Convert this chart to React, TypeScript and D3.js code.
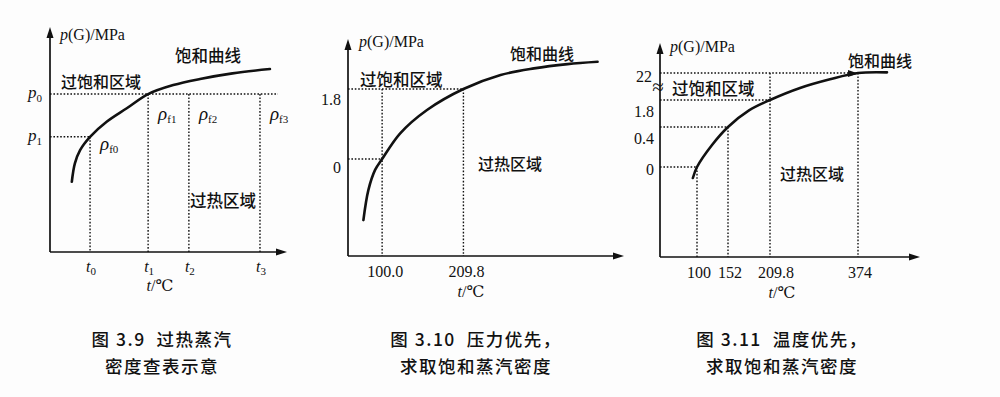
import React from 'react';
import * as d3 from 'd3';

const SERIF = "'Liberation Serif', 'DejaVu Serif', serif";
const CJK = "'Noto Sans CJK SC', 'Noto Sans', sans-serif";
const INK = '#111';

// 图3.9: schematic, relative units (0-100 on both axes)
const fig9CurveT = [9.2, 10.5, 12.7, 16.9, 23.9, 32.4, 41.4, 52, 63.3, 77, 92.8];
const fig9CurveP = [31.2, 39.4, 45.3, 51.2, 57.9, 63.9, 70.2, 74.2, 76.9, 79.4, 81.3];
const fig9Temps = [16.9, 41.4, 58.6, 88.6];
const fig9TempSubs = ['0', '1', '2', '3'];
const fig9VLineTops = [51.2, 70.2, 70.2, 70.2];
const fig9Pressures = [70.2, 51.2];
const fig9PressureSubs = ['0', '1'];
const fig9HLineEnds = [96.2, 16.9];
const fig9DensitySubs = ['f0', 'f1', 'f2', 'f3'];

// 图3.10: pressure first
const fig10CurveT = [74.7, 81.4, 90.5, 100, 124.4, 160.6, 209.8, 260, 305.1, 350.4, 391];
const fig10CurveP = [-1.57, -0.8, -0.28, 0, 0.66, 1.26, 1.8, 2.16, 2.33, 2.44, 2.5];
const fig10Temps = [100, 209.8];
const fig10TempLabels = ['100.0', '209.8'];
const fig10VLineTops = [1.8, 1.8];
const fig10Pressures = [0, 1.8];
const fig10PressureLabels = ['0', '1.8'];
const fig10HLineEnds = [100, 209.8];

// 图3.11: temperature first
const fig11CurveT = [93.3, 100, 125.2, 152, 180.9, 209.8, 265.8, 321.7, 374, 427.8];
const fig11CurveP = [-0.11, 0, 0.22, 0.4, 1.26, 1.8, 10.8, 17.3, 22, 22.5];
const fig11Temps = [100, 152, 209.8, 374];
const fig11TempLabels = ['100', '152', '209.8', '374'];
const fig11VLineTops = [0, 0.4, 22, 22];
const fig11Pressures = [0, 0.4, 1.8, 22];
const fig11PressureLabels = ['0', '0.4', '1.8', '22'];
const fig11HLineEnds = [100, 152, 209.8, 374];

const captions = [
  ['图 3.9  过热蒸汽', '密度查表示意'],
  ['图 3.10  压力优先，', '求取饱和蒸汽密度'],
  ['图 3.11  温度优先，', '求取饱和蒸汽密度'],
];

type Scale = (v: number) => number;

function Axes({ x, y, xDom, yDom }: { x: Scale; y: Scale; xDom: number[]; yDom: number[] }) {
  const x0 = x(xDom[0]);
  const y0 = y(yDom[0]);
  const x1 = x(xDom[xDom.length - 1]);
  const y1 = y(yDom[yDom.length - 1]);
  return (
    <g>
      <line x1={x0} y1={y0} x2={x0} y2={y1 + 8} stroke={INK} strokeWidth={1.7} />
      <line x1={x0} y1={y0} x2={x1 - 8} y2={y0} stroke={INK} strokeWidth={1.7} />
      <path d={`M${x0},${y1} L${x0 - 3.5},${y1 + 11} L${x0 + 3.5},${y1 + 11} Z`} fill={INK} />
      <path d={`M${x1},${y0} L${x1 - 11},${y0 - 3.5} L${x1 - 11},${y0 + 3.5} Z`} fill={INK} />
    </g>
  );
}

function Dotted({ x1, y1, x2, y2 }: { x1: number; y1: number; x2: number; y2: number }) {
  return <line x1={x1} y1={y1} x2={x2} y2={y2} stroke={INK} strokeWidth={1.4} strokeDasharray="1.6 1.8" />;
}

function curvePath(x: Scale, y: Scale, ts: number[], ps: number[]) {
  const line = d3
    .line<number>()
    .x((_, i) => x(ts[i]))
    .y((_, i) => y(ps[i]))
    .curve(d3.curveCatmullRom.alpha(0.5));
  return line(ts) || '';
}

function Cjk({ x, y, children, size = 16, anchor = 'start' }: any) {
  return (
    <text x={x} y={y} fontFamily={CJK} fontSize={size} fontWeight={500} fill={INK} textAnchor={anchor} dominantBaseline="central">
      {children}
    </text>
  );
}

function YTitle({ x, y }: { x: number; y: number }) {
  return (
    <text x={x} y={y} fontFamily={SERIF} fontSize={16} fill={INK}>
      <tspan fontStyle="italic">p</tspan>(G)/MPa
    </text>
  );
}

function XTitle({ x, y }: { x: number; y: number }) {
  return (
    <text x={x} y={y} fontFamily={SERIF} fontSize={16} fill={INK} textAnchor="middle">
      <tspan fontStyle="italic">t</tspan>/℃
    </text>
  );
}

function Fig9() {
  const xDom = [0, 100];
  const yDom = [0, 100];
  const x = d3.scaleLinear().domain(xDom).range([50, 287]);
  const y = d3.scaleLinear().domain(yDom).range([252, 27]);
  return (
    <g>
      <Axes x={x} y={y} xDom={xDom} yDom={yDom} />
      {fig9Pressures.map((p, i) => (
        <Dotted key={'h' + i} x1={x(0)} y1={y(p)} x2={x(fig9HLineEnds[i])} y2={y(p)} />
      ))}
      {fig9Temps.map((t, i) => (
        <Dotted key={'v' + i} x1={x(t)} y1={y(fig9VLineTops[i])} x2={x(t)} y2={y(0)} />
      ))}
      <path d={curvePath(x, y, fig9CurveT, fig9CurveP)} fill="none" stroke={INK} strokeWidth={2.6} strokeLinecap="round" />
      {fig9Pressures.map((p, i) => (
        <text key={'pl' + i} x={28} y={y(p) + 4} fontFamily={SERIF} fontSize={17} fill={INK}>
          <tspan fontStyle="italic">p</tspan>
          <tspan fontSize={11} dy={4}>{fig9PressureSubs[i]}</tspan>
        </text>
      ))}
      {fig9Temps.map((t, i) => (
        <text key={'tl' + i} x={x(t) + 1} y={272} fontFamily={SERIF} fontSize={16} fill={INK} textAnchor="middle">
          <tspan fontStyle="italic">t</tspan>
          <tspan fontSize={11} dy={3}>{fig9TempSubs[i]}</tspan>
        </text>
      ))}
      {fig9Temps.map((t, i) => (
        <text key={'rho' + i} x={x(t) + 10} y={i === 0 ? 150 : y(fig9Pressures[0]) + 26} fontFamily={SERIF} fontSize={19} fill={INK}>
          <tspan fontStyle="italic">ρ</tspan>
          <tspan fontSize={11} dy={3}>{fig9DensitySubs[i]}</tspan>
        </text>
      ))}
      <YTitle x={60} y={40} />
      <XTitle x={160} y={291} />
      <Cjk x={175} y={55} size={16.5}>饱和曲线</Cjk>
      <Cjk x={61} y={81}>过饱和区域</Cjk>
      <Cjk x={190} y={200} size={16.5}>过热区域</Cjk>
    </g>
  );
}

function Fig10() {
  const xDom = [53.9, 426.7];
  const yDom = [-2.494, 3.086];
  const x = d3.scaleLinear().domain(xDom).range([348, 624]);
  const y = d3.scaleLinear().domain(yDom).range([256, 39]);
  return (
    <g>
      <Axes x={x} y={y} xDom={xDom} yDom={yDom} />
      {fig10Pressures.map((p, i) => (
        <Dotted key={'h' + i} x1={x(xDom[0])} y1={y(p)} x2={x(fig10HLineEnds[i])} y2={y(p)} />
      ))}
      {fig10Temps.map((t, i) => (
        <Dotted key={'v' + i} x1={x(t)} y1={y(fig10VLineTops[i])} x2={x(t)} y2={y(yDom[0])} />
      ))}
      <path d={curvePath(x, y, fig10CurveT, fig10CurveP)} fill="none" stroke={INK} strokeWidth={2.6} strokeLinecap="round" />
      {fig10Pressures.map((p, i) => (
        <text key={'pl' + i} x={341} y={y(p) + (i === 0 ? 14 : 16)} fontFamily={SERIF} fontSize={16} fill={INK} textAnchor="end">
          {fig10PressureLabels[i]}
        </text>
      ))}
      {fig10Temps.map((t, i) => (
        <text key={'tl' + i} x={x(t) + 3} y={277} fontFamily={SERIF} fontSize={16} fill={INK} textAnchor="middle">
          {fig10TempLabels[i]}
        </text>
      ))}
      <YTitle x={359} y={47} />
      <XTitle x={471} y={297} />
      <Cjk x={510} y={53}>饱和曲线</Cjk>
      <Cjk x={360} y={79} size={16.5}>过饱和区域</Cjk>
      <Cjk x={478} y={163}>过热区域</Cjk>
    </g>
  );
}

function Fig11() {
  const xDom = [40, 100, 152, 209.8, 374, 489];
  const yDom = [-0.9, 0, 0.4, 1.8, 22, 44.4];
  const x = d3.scaleLinear().domain(xDom).range([660, 697, 728, 770, 858, 920]);
  const y = d3.scaleLinear().domain(yDom).range([257, 167, 127, 100, 73, 43]);
  const ax = x(374);
  const ay = y(22);
  const labelDy = [8, 17, 17, 9];
  return (
    <g>
      <Axes x={x} y={y} xDom={xDom} yDom={yDom} />
      {fig11Pressures.map((p, i) => (
        <Dotted key={'h' + i} x1={x(xDom[0])} y1={y(p)} x2={x(fig11HLineEnds[i]) - (i === 3 ? 6 : 0)} y2={y(p)} />
      ))}
      {fig11Temps.map((t, i) => (
        <Dotted key={'v' + i} x1={x(t)} y1={y(fig11VLineTops[i])} x2={x(t)} y2={y(yDom[0])} />
      ))}
      <path d={curvePath(x, y, fig11CurveT, fig11CurveP)} fill="none" stroke={INK} strokeWidth={2.6} strokeLinecap="round" />
      <path d={`M${ax},${ay + 0.5} L${ax - 10},${ay - 3} L${ax - 10},${ay + 4} Z`} fill={INK} />
      {fig11Pressures.map((p, i) => (
        <text key={'pl' + i} x={i === 3 ? 652 : 654} y={y(p) + labelDy[i]} fontFamily={SERIF} fontSize={16} fill={INK} textAnchor="end">
          {fig11PressureLabels[i]}
        </text>
      ))}
      <text x={658} y={94} fontFamily={SERIF} fontSize={21} fill={INK} textAnchor="middle">≈</text>
      {fig11Temps.map((t, i) => (
        <text key={'tl' + i} x={x(t) + (i === 2 ? 6 : 2)} y={278} fontFamily={SERIF} fontSize={16} fill={INK} textAnchor="middle">
          {fig11TempLabels[i]}
        </text>
      ))}
      <YTitle x={670} y={52} />
      <XTitle x={782} y={298} />
      <Cjk x={848} y={60}>饱和曲线</Cjk>
      <Cjk x={672} y={88} size={16.5}>过饱和区域</Cjk>
      <Cjk x={780} y={173}>过热区域</Cjk>
    </g>
  );
}

export default function App() {
  const captionX = [162, 476, 782];
  return (
    <svg width={1000} height={397} style={{ position: 'absolute', left: 0, top: 0, background: '#fdfdfd' }}>
      <Fig9 />
      <Fig10 />
      <Fig11 />
      {captions.map((lines, i) => (
        <g key={i}>
          {lines.map((s, j) => (
            <text
              key={j}
              x={captionX[i]}
              y={j === 0 ? 338 : 365}
              fontFamily={CJK}
              fontSize={17.5}
              fontWeight={500}
              letterSpacing={1.5}
              fill={INK}
              textAnchor="middle"
              dominantBaseline="central"
              style={{ whiteSpace: 'pre' }}
            >
              {s}
            </text>
          ))}
        </g>
      ))}
    </svg>
  );
}
